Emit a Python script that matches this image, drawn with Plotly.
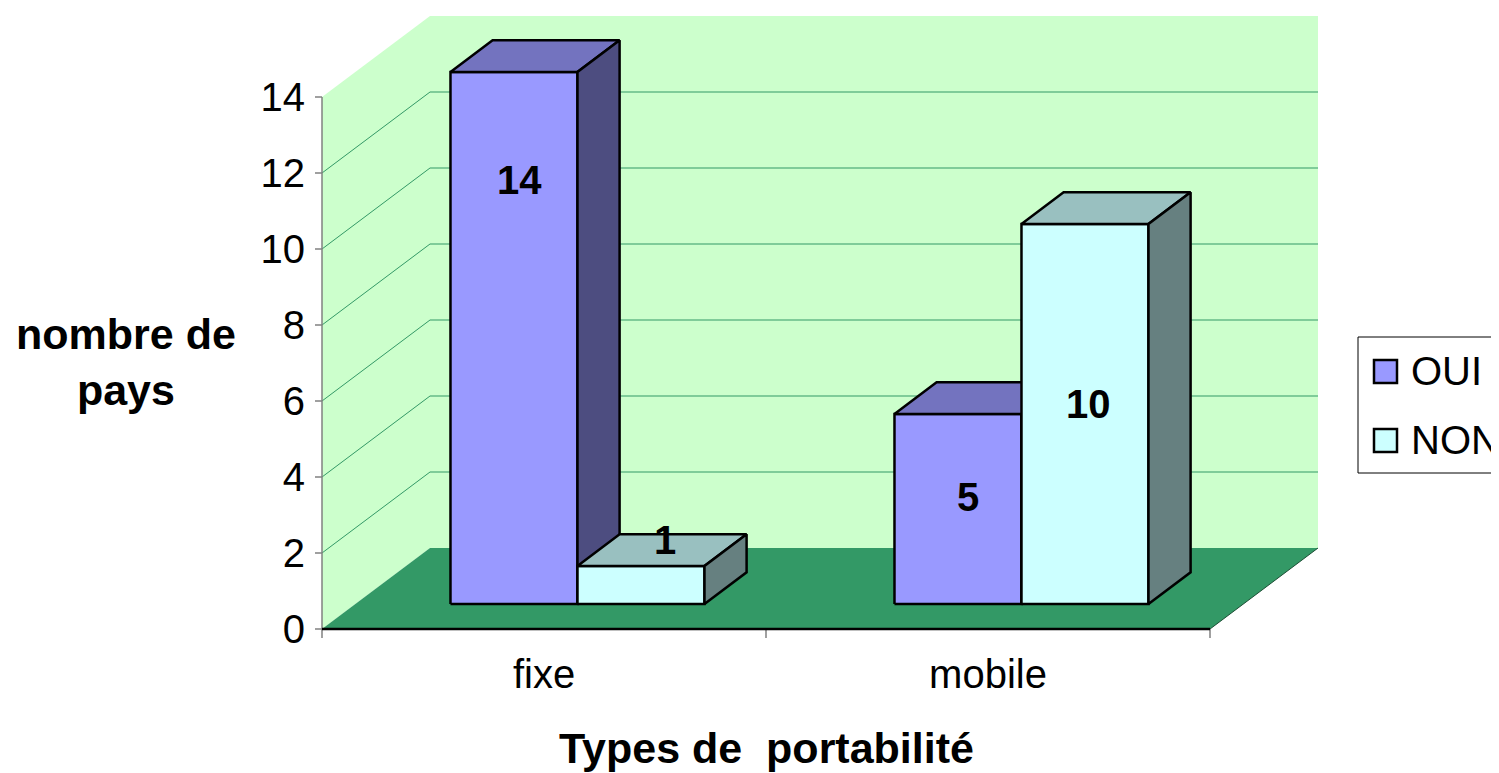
import plotly.graph_objects as go

# ---------------- data ----------------
categories = ["fixe", "mobile"]
series_names = ["OUI", "NON"]
oui_values = [14, 5]
non_values = [1, 10]
y_tick_values = [0, 2, 4, 6, 8, 10, 12, 14]
y_tick_labels = ["0", "2", "4", "6", "8", "10", "12", "14"]
x_title = "Types de  portabilité"
y_title = "nombre de<br>pays"

# ---------------- style / geometry ----------------
W, H = 1499, 773
OFF = 8                             # page body margin
ORIG_X, ORIG_Y = 322, 629          # screen pixel of (category 0, value 0)
PX_PER_CAT = 444
PX_PER_UNIT = 38
PLOT_L, PLOT_R, PLOT_T, PLOT_B = 312, 1320, 9, 639
WALL_DX_PX, WALL_DY_PX = 108, 81
BAR_FRONT_T, BAR_BACK_T = 0.31, 0.70
BAR_W_PX = 127

FONT = "Liberation Sans, Arial, sans-serif"
FRONT_COLORS = ["#9999FF", "#CCFFFF"]
TOP_COLORS = ["#7373BF", "#99C0C0"]
SIDE_COLORS = ["#4D4D80", "#668080"]
WALL_COLOR = "#CCFFCC"
FLOOR_COLOR = "#339966"
GRID_COLOR = "#339966"


def dx(px):
    return px / PX_PER_CAT


def dy(px):
    return px / PX_PER_UNIT


def paper_x(px):
    return (px - PLOT_L) / (PLOT_R - PLOT_L)


def paper_y(py):
    return (PLOT_B - py) / (PLOT_B - PLOT_T)


x_min = dx(PLOT_L - ORIG_X)
x_max = dx(PLOT_R - ORIG_X)
y_min = dy(ORIG_Y - PLOT_B)
y_max = dy(ORIG_Y - PLOT_T)

n_cat = len(categories)
top_val = max(y_tick_values)
wdx, wdy = dx(WALL_DX_PX), dy(WALL_DY_PX)

fig = go.Figure()


def poly(xs, ys, fill, line_color=None, line_width=0):
    fig.add_trace(go.Scatter(
        x=list(xs) + [xs[0]], y=list(ys) + [ys[0]],
        mode="lines", fill="toself", fillcolor=fill,
        line=dict(color=line_color if line_color else fill, width=line_width if line_color else 0),
        hoverinfo="skip", showlegend=False))


def seg(xs, ys, color, width):
    fig.add_trace(go.Scatter(x=xs, y=ys, mode="lines",
                             line=dict(color=color, width=width),
                             hoverinfo="skip", showlegend=False))


# walls
poly([0, 0, wdx, wdx], [0, top_val, top_val + wdy, wdy], WALL_COLOR)
poly([wdx, n_cat + wdx, n_cat + wdx, wdx], [wdy, wdy, top_val + wdy, top_val + wdy], WALL_COLOR)

# gridlines
gx, gy = [], []
for v in y_tick_values[1:-1]:
    gx += [0, wdx, n_cat + wdx, None]
    gy += [v, v + wdy, v + wdy, None]
seg(gx, gy, GRID_COLOR, 1)

# floor
poly([0, n_cat, n_cat + wdx, wdx], [0, 0, wdy, wdy], FLOOR_COLOR)
seg([n_cat, n_cat + wdx], [0, wdy], "#1a4d33", 1)

# axes lines and ticks
seg([0, 0], [0, top_val], "#808080", 1.5)
tx, ty = [], []
for v in y_tick_values:
    tx += [0, dx(-7), None]
    ty += [v, v, None]
seg(tx, ty, "#808080", 1.5)
tx, ty = [], []
for k in range(n_cat + 1):
    tx += [k, k, None]
    ty += [0, dy(-9), None]
seg(tx, ty, "#808080", 1.5)
seg([0, n_cat], [0, 0], "#000000", 2.5)

# bars
all_values = [oui_values, non_values]
fx, fy = dx(WALL_DX_PX * BAR_FRONT_T), dy(WALL_DY_PX * BAR_FRONT_T)
ddx = dx(WALL_DX_PX * (BAR_BACK_T - BAR_FRONT_T))
ddy = dy(WALL_DY_PX * (BAR_BACK_T - BAR_FRONT_T))
bw = dx(BAR_W_PX)
bar_boxes = {}
for i in range(n_cat):
    center = i + 0.5 + fx
    for j, vals in enumerate(all_values):
        x0 = center - bw + j * bw
        x1 = x0 + bw
        base = fy
        top = base + vals[i]
        poly([x0, x1, x1, x0], [base, base, top, top], FRONT_COLORS[j], "#000000", 2.5)
        poly([x0, x1, x1 + ddx, x0 + ddx], [top, top, top + ddy, top + ddy], TOP_COLORS[j], "#000000", 2.5)
        poly([x1, x1 + ddx, x1 + ddx, x1], [base, base + ddy, top + ddy, top], SIDE_COLORS[j], "#000000", 2.5)
        bar_boxes[(i, j)] = (x0, x1, base, top)

# data labels (positions inside/above bars as drawn by the original)
label_heights = {(0, 0): 11.15, (0, 1): 1.68, (1, 0): 2.8, (1, 1): 5.25}
label_shift_px = {(0, 0): 6, (0, 1): 24, (1, 0): 10, (1, 1): 4}
annotations = []
for (i, j), (x0, x1, base, top) in bar_boxes.items():
    annotations.append(dict(
        x=(x0 + x1) / 2 + dx(label_shift_px[(i, j)]), y=base + label_heights[(i, j)],
        xref="x", yref="y", text=f"<b>{all_values[j][i]}</b>", showarrow=False,
        xanchor="center", yanchor="middle",
        font=dict(family=FONT, size=40, color="#000000")))

# axis titles
annotations.append(dict(x=paper_x(126), y=paper_y(362), xref="paper", yref="paper",
                        xanchor="center", yanchor="middle",
                        text=f"<b>{y_title}</b>", showarrow=False, align="center",
                        font=dict(family=FONT, size=43, color="#000000")))
annotations.append(dict(x=paper_x(766), y=paper_y(748), xref="paper", yref="paper",
                        xanchor="center", yanchor="middle",
                        text=f"<b>{x_title}</b>", showarrow=False,
                        font=dict(family=FONT, size=43, color="#000000")))

# legend (drawn manually)
shapes = [dict(type="rect", xref="paper", yref="paper",
               x0=paper_x(1358), x1=paper_x(1530), y0=paper_y(473), y1=paper_y(337),
               line=dict(color="#000000", width=1), fillcolor="#FFFFFF", layer="above")]
leg_rows = [371, 440]
for j, name in enumerate(series_names):
    cy = leg_rows[j]
    shapes.append(dict(type="rect", xref="paper", yref="paper",
                       x0=paper_x(1374), x1=paper_x(1397), y0=paper_y(cy + 12), y1=paper_y(cy - 11),
                       line=dict(color="#000000", width=2.5), fillcolor=FRONT_COLORS[j], layer="above"))
    annotations.append(dict(x=paper_x(1409), y=paper_y(cy), xref="paper", yref="paper",
                            xanchor="left", yanchor="middle", text=name, showarrow=False,
                            font=dict(family=FONT, size=40, color="#000000")))

fig.update_layout(
    width=W - OFF, height=H - OFF, autosize=False,
    margin=dict(l=PLOT_L - OFF, r=W - PLOT_R, t=PLOT_T - OFF, b=H - PLOT_B, autoexpand=False),
    paper_bgcolor="#FFFFFF", plot_bgcolor="rgba(0,0,0,0)",
    showlegend=False,
    xaxis=dict(range=[x_min, x_max], showgrid=False, zeroline=False, showline=False,
               tickvals=[k + 0.5 for k in range(n_cat)], ticktext=categories,
               ticks="", ticklabelstandoff=8,
               tickfont=dict(family=FONT, size=40, color="#000000"), fixedrange=True),
    yaxis=dict(range=[y_min, y_max], showgrid=False, zeroline=False, showline=False,
               tickvals=y_tick_values, ticktext=y_tick_labels, ticks="",
               ticklabelstandoff=6,
               tickfont=dict(family=FONT, size=40, color="#000000"), fixedrange=True),
    annotations=annotations, shapes=shapes,
)

fig.write_html("out.html")
